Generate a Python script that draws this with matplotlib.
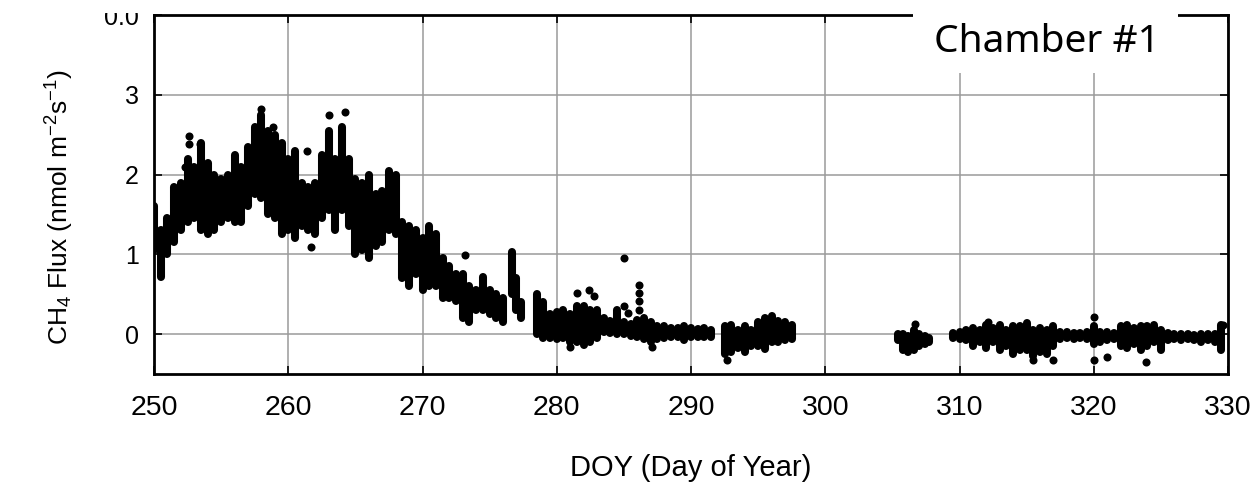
import matplotlib
matplotlib.use("Agg")
import matplotlib.pyplot as plt
from matplotlib.patches import Rectangle

# ---- data (DOY, lower / upper envelope of flux cloud) ----
doy = [250.0, 250.5, 251.0, 251.5, 252.0, 252.5, 253.0, 253.5, 254.0, 254.5,
       255.0, 255.5, 256.0, 256.5, 257.0, 257.5, 258.0, 258.5, 259.0, 259.5,
       260.0, 260.5, 261.0, 261.5, 262.0, 262.5, 263.0, 263.5, 264.0, 264.5,
       265.0, 265.5, 266.0, 266.5, 267.0, 267.5, 268.0, 268.5, 269.0, 269.5,
       270.0, 270.5, 271.0, 271.5, 272.0, 272.5, 273.0, 273.5, 274.0, 274.5,
       275.0, 275.5, 276.0, 276.7, 277.0, 277.3, 278.5, 279.0, 279.5, 280.0,
       280.5, 281.0, 281.5, 282.0, 282.5, 283.0, 283.5, 284.0, 284.5, 285.0,
       285.5, 286.0, 286.5, 287.0, 287.5, 288.0, 288.5, 289.0, 289.5, 290.0,
       290.5, 291.0, 291.5, 292.5, 293.0, 293.5, 294.0, 294.5, 295.0, 295.5,
       296.0, 296.5, 297.0, 297.5,
       305.4, 305.8, 306.2, 306.6, 307.0, 307.4, 307.7,
       309.5, 310.0, 310.5, 311.0, 311.5, 312.0, 312.5, 313.0, 313.5, 314.0,
       314.5, 315.0, 315.5, 316.0, 316.5, 317.0, 317.5, 318.0, 318.5, 319.0,
       319.5, 320.0, 320.5, 321.0, 321.5, 322.0, 322.5, 323.0, 323.5, 324.0,
       324.5, 325.0, 325.5, 326.0, 326.5, 327.0, 327.5, 328.0, 328.5, 329.0,
       329.5]

flux_lo = [1.05, 0.72, 1.00, 1.15, 1.30, 1.40, 1.45, 1.30, 1.25, 1.30,
           1.40, 1.45, 1.40, 1.40, 1.60, 1.75, 1.70, 1.50, 1.45, 1.25,
           1.30, 1.20, 1.35, 1.30, 1.25, 1.45, 1.55, 1.30, 1.55, 1.35,
           1.00, 1.05, 0.95, 1.10, 1.15, 1.30, 1.25, 0.70, 0.60, 0.75,
           0.55, 0.60, 0.60, 0.45, 0.45, 0.42, 0.20, 0.15, 0.30, 0.30,
           0.25, 0.20, 0.15, 0.50, 0.30, 0.20, 0.00, -0.05, -0.05, -0.06,
           -0.05, -0.10, -0.10, -0.14, -0.10, -0.05, 0.03, 0.02, 0.00, 0.00,
           -0.02, -0.03, -0.06, -0.10, -0.06, -0.05, -0.04, -0.04, -0.08, -0.04,
           -0.04, -0.03, -0.03, -0.25, -0.22, -0.18, -0.23, -0.15, -0.15, -0.19,
           -0.10, -0.10, -0.08, -0.06,
           -0.08, -0.20, -0.23, -0.20, -0.15, -0.12, -0.10,
           -0.05, -0.06, -0.08, -0.15, -0.10, -0.18, -0.10, -0.20, -0.15, -0.25,
           -0.20, -0.20, -0.28, -0.22, -0.25, -0.15, -0.06, -0.05, -0.06, -0.05,
           -0.06, -0.12, -0.10, -0.08, -0.06, -0.15, -0.18, -0.12, -0.20, -0.15,
           -0.10, -0.20, -0.08, -0.06, -0.08, -0.06, -0.08, -0.10, -0.08, -0.10,
           -0.20]

flux_hi = [1.60, 1.30, 1.45, 1.85, 1.90, 2.20, 2.10, 2.40, 2.15, 2.00,
           1.95, 2.00, 2.25, 2.10, 2.35, 2.60, 2.75, 2.55, 2.50, 2.40,
           2.20, 2.30, 1.90, 1.85, 1.90, 2.25, 2.55, 2.20, 2.60, 2.20,
           1.95, 1.90, 2.00, 1.75, 1.80, 2.05, 2.00, 1.40, 1.35, 1.30,
           1.20, 1.35, 1.25, 0.95, 0.85, 0.75, 0.75, 0.60, 0.55, 0.72,
           0.55, 0.50, 0.45, 1.03, 0.70, 0.40, 0.50, 0.40, 0.25, 0.28,
           0.30, 0.25, 0.35, 0.35, 0.30, 0.30, 0.20, 0.17, 0.30, 0.15,
           0.13, 0.18, 0.20, 0.15, 0.10, 0.10, 0.08, 0.08, 0.10, 0.08,
           0.07, 0.08, 0.05, 0.10, 0.12, 0.05, 0.10, 0.05, 0.15, 0.20,
           0.23, 0.17, 0.15, 0.12,
           0.00, 0.00, -0.02, 0.05, 0.00, -0.02, -0.05,
           0.02, 0.03, 0.05, 0.08, 0.05, 0.12, 0.08, 0.12, 0.05, 0.10,
           0.10, 0.14, 0.05, 0.08, 0.05, 0.10, 0.03, 0.03, 0.02, 0.02,
           0.03, 0.10, 0.03, 0.03, 0.02, 0.10, 0.12, 0.08, 0.10, 0.10,
           0.12, 0.05, 0.02, 0.00, 0.00, 0.00, -0.01, 0.00, 0.00, 0.00,
           0.12]

# isolated points outside the main cloud
out_doy = [252.6, 252.6, 252.3, 253.4, 258.0, 258.9, 261.4, 261.7, 263.0, 264.2,
           273.2, 281.5, 282.4, 282.8, 281.0, 285.0, 285.0, 285.3, 286.15, 286.15,
           286.15, 286.15, 292.65, 306.7, 312.15, 315.5, 317.0, 320.0, 320.0, 321.0,
           323.9, 329.6, 287.1]
out_flux = [2.48, 2.38, 2.10, 2.38, 2.82, 2.60, 2.30, 1.09, 2.75, 2.78,
            0.99, 0.52, 0.55, 0.48, -0.16, 0.95, 0.35, 0.27, 0.61, 0.52,
            0.42, 0.30, -0.33, 0.13, 0.15, -0.33, -0.33, 0.21, -0.33, -0.29,
            -0.35, 0.12, -0.16]

x_ticks = [250, 260, 270, 280, 290, 300, 310, 320, 330]
y_ticks = [0, 1, 2, 3, 4]
y_ticklabels = ["0", "1", "2", "3", "0.0"]
panel_label = "Chamber #1"

# ---- figure ----
W, H = 1259, 486
fig = plt.figure(figsize=(W / 100, H / 100), dpi=100)
plt.rcParams["mathtext.fontset"] = "custom"
plt.rcParams["mathtext.rm"] = "Liberation Sans"
plt.rcParams["mathtext.it"] = "Liberation Sans:italic"
plt.rcParams["mathtext.bf"] = "Liberation Sans:bold"

ax = fig.add_axes([154 / W, 1 - 374 / H, (1228 - 154) / W, (374 - 15) / H])
ax.set_xlim(250, 330)
ax.set_ylim(-0.5, 4.0)

ax.grid(True, color="#9a9a9a", linewidth=1.1, zorder=0)
ax.set_axisbelow(True)

dot_lw = 5.8
ax.vlines(doy, flux_lo, flux_hi, colors="black", linewidth=dot_lw,
          capstyle="round", zorder=3)
ax.scatter(out_doy, out_flux, s=dot_lw ** 2, color="black", zorder=3,
           linewidths=0)

ax.set_xticks(x_ticks)
ax.set_yticks(y_ticks)
ax.set_yticklabels(y_ticklabels)
for lab in ax.get_xticklabels():
    lab.set_fontfamily("Liberation Sans")
    lab.set_fontsize(20.5)
for lab in ax.get_yticklabels():
    lab.set_fontfamily("Liberation Sans")
    lab.set_fontsize(18)
ax.tick_params(axis="both", direction="in", length=6, width=1.2,
               top=True, right=True, colors="black")
ax.tick_params(axis="x", pad=15)
ax.tick_params(axis="y", pad=11)

for sp in ax.spines.values():
    sp.set_linewidth(2.0)
    sp.set_color("black")

ax.set_xlabel("DOY (Day of Year)", fontfamily="Liberation Sans", fontsize=21,
              labelpad=24)
ax.set_ylabel(r"CH$_4$ Flux (nmol m$^{-2}$s$^{-1}$)",
              fontfamily="Liberation Sans", fontsize=19, labelpad=20)
ax.yaxis.label.set_y(0.465)

# white areas covering the top edge (cropped reference)
fig.patches.append(Rectangle((0, 1 - 13 / H), 148 / W, 13 / H,
                             transform=fig.transFigure, facecolor="white",
                             edgecolor="none", zorder=10))
fig.patches.append(Rectangle((913 / W, 1 - 73 / H), (1178 - 913) / W, 73 / H,
                             transform=fig.transFigure, facecolor="white",
                             edgecolor="none", zorder=10))
fig.text(1047 / W, 1 - 42 / H, panel_label, fontfamily="Noto Sans",
         fontsize=28, ha="center", va="center", zorder=11)

fig.savefig("out.png", dpi=100)
